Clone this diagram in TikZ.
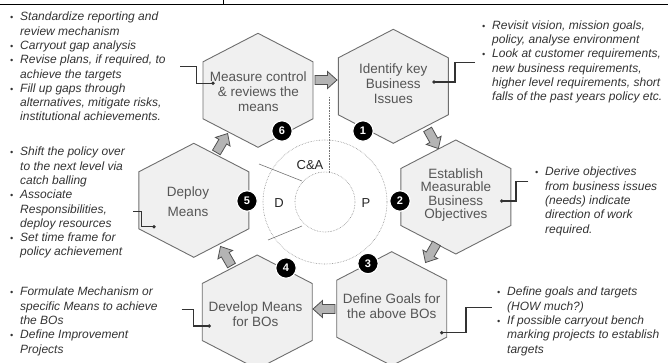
\documentclass[tikz,border=0pt]{standalone}
\usepackage{fontspec}
\setmainfont{Liberation Sans}
\usetikzlibrary{calc}

\definecolor{hexfill}{HTML}{F0F0F0}
\definecolor{hexline}{HTML}{6E6E6E}
\definecolor{hexink}{HTML}{555555}
\definecolor{noteink}{HTML}{333333}
\definecolor{arrfill}{HTML}{B4B4B4}
\definecolor{arrline}{HTML}{505050}

% bullet and continuation indent for the note lists
\newcommand\bi{\makebox[10pt][l]{\fontsize{9}{9}\selectfont\textbullet}}
\newcommand\bc{\hspace*{10pt}}

\tikzset{
  hexshape/.pic={\draw[draw=hexline, fill=hexfill, line width=0.9pt]
      (0,-57)--(55,-28.5)--(55,28.5)--(0,57)--(-55,28.5)--(-55,-28.5)--cycle;},
  blockarrow/.pic={\draw[draw=arrline, fill=arrfill, line width=0.8pt, line join=miter]
      (-11,-4.5)--(1.5,-4.5)--(1.5,-8.5)--(11,0)--(1.5,8.5)--(1.5,4.5)--(-11,4.5)--cycle;},
  hexlabel/.style={align=center, text=hexink, font=\fontsize{13.5}{15}\selectfont, inner sep=0pt},
  notes/.style={align=left, text=noteink, font=\fontsize{12}{14.3}\selectfont\itshape,
      inner sep=0pt, anchor=north west},
  badge/.style={circle, fill=black, draw=white, line width=1.2pt, minimum size=20.5pt,
      inner sep=0pt, text=white, font=\fontsize{11}{11}\selectfont\bfseries},
  callout/.style={draw=black!80, line width=1.1pt},
  enddot/.style={fill=black!80},
  ring/.style={draw=black!45, line width=0.6pt, densely dotted},
  sector/.style={draw=black!55, line width=0.6pt},
  cyclelabel/.style={font=\fontsize{13}{13}\selectfont, text=black!85, inner sep=0pt},
}

\begin{document}
\begin{tikzpicture}[x=1pt, y=-1pt]
\useasboundingbox (0,0) rectangle (668,363);

% table rule along the top edge
\draw[line width=1.4pt] (0,4.3) -- (668,4.3);
\draw[line width=1pt] (223.3,0) -- (223.3,4.3);

% central PDCA rings
\coordinate (hub) at (325,202);
\draw[ring] (hub) circle (62);
\draw[ring] (hub) circle (30);
\coordinate (s1a) at (329.5,97);   \coordinate (s1b) at (329.5,173);
\coordinate (s2a) at (259,164);    \coordinate (s2b) at (302,181);
\coordinate (s3a) at (268,240);    \coordinate (s3b) at (302,226);
\draw[sector, densely dotted] (s1a) -- (s1b);
\draw[sector] (s2a) -- (s2b);
\draw[sector] (s3a) -- (s3b);
\node[cyclelabel] (ca) at (310,165) {C\&A};
\node[cyclelabel] (dd) at (279,203) {D};
\node[cyclelabel] (pp) at (366,203) {P};

% hexagon steps
\pic at (393.3,86.3) {hexshape};
\pic at (455.8,197) {hexshape};
\pic at (391.7,308.7) {hexshape};
\pic at (257.2,312) {hexshape};
\pic at (193.8,200.3) {hexshape};
\pic at (258,90.3) {hexshape};

\node[hexlabel] (h1) at (393.3,84) {Identify key\\Business\\Issues};
\node[hexlabel, font=\fontsize{13.5}{13.5}\selectfont] (h2) at (455.8,195) {Establish\\Measurable\\Business\\Objectives};
\node[hexlabel] (h3) at (391.7,306.5) {Define Goals for\\the above BOs};
\node[hexlabel] (h4) at (255.5,314.5) {Develop Means\\for BOs};
\node[hexlabel, font=\fontsize{13.5}{20}\selectfont] (h5) at (188,201.7) {Deploy\\Means};
\node[hexlabel] (h6) at (258.3,92) {Measure control\\\& reviews the\\means};

% flow arrows between the steps
\pic[rotate=0]     at (326,80)    {blockarrow};
\pic[rotate=-60.8] at (433,139)   {blockarrow};
\pic[rotate=-120]  at (431,253)   {blockarrow};
\pic[rotate=180]   at (324,309)   {blockarrow};
\pic[rotate=120]   at (226,256)   {blockarrow};
\pic[rotate=59.4]  at (222,143)   {blockarrow};

% step numbers
\node[badge] (b1) at (363,131) {1};
\node[badge] (b2) at (400,201) {2};
\node[badge] (b3) at (368,263.5) {3};
\node[badge] (b4) at (286,268) {4};
\node[badge] (b5) at (247,201) {5};
\node[badge] (b6) at (282,131) {6};

% notes
\node[notes] (t6) at (10,12) {\bi Standardize reporting and\\\bc review mechanism\\\bi Carryout gap analysis\\\bi Revise plans, if required, to\\\bc achieve the targets\\\bi Fill up gaps through\\\bc alternatives, mitigate risks,\\\bc institutional achievements.};
\node[notes] (t1) at (482,20.3) {\bi Revisit vision, mission goals,\\\bc policy, analyse environment\\\bi Look at customer requirements,\\\bc new business requirements,\\\bc higher level requirements, short\\\bc falls of the past years policy etc.};
\node[notes] (t2) at (535,167) {\bi Derive objectives\\\bc from business issues\\\bc (needs) indicate\\\bc direction of work\\\bc required.};
\node[notes] (t5) at (10,147) {\bi Shift the policy over\\\bc to the next level via\\\bc catch balling\\\bi Associate\\\bc Responsibilities,\\\bc deploy resources\\\bi Set time frame for\\\bc policy achievement};
\node[notes] (t4) at (10,287) {\bi Formulate Mechanism or\\\bc specific Means to achieve\\\bc the BOs\\\bi Define Improvement\\\bc Projects};
\node[notes] (t3) at (497,287) {\bi Define goals and targets\\\bc (HOW much?)\\\bi If possible carryout bench\\\bc marking projects to establish\\\bc targets};

% callout leaders from notes to steps
\coordinate (e6) at (180,66.7);   \coordinate (d6) at (213,83.3);
\coordinate (e1) at (475,62.7);   \coordinate (d1) at (434,82);
\coordinate (e2) at (528.3,181.7);\coordinate (d2) at (501.7,201);
\coordinate (e5) at (133.3,211.7);\coordinate (d5) at (154,226.7);
\coordinate (e4) at (181.7,309.3);\coordinate (d4) at (209.3,326);
\coordinate (e3) at (491.7,307.3);\coordinate (d3) at (441.7,332.7);

\draw[callout] (e6) -- ++(16.7,0) |- (d6);
\draw[callout] (e1) -- ++(-20,0) |- (d1);
\draw[callout] (e2) -- ++(-12.3,0) |- (d2);
\draw[callout] (e5) -- ++(8.4,0) |- (d5);
\draw[callout] (e4) -- ++(11.6,0) |- (d4);
\draw[callout] (e3) -- ++(-25.7,0) |- (d3);
\foreach \d in {d1,d2,d3,d4,d5,d6} \fill[enddot] (\d) circle (1.9);

\end{tikzpicture}
\end{document}
